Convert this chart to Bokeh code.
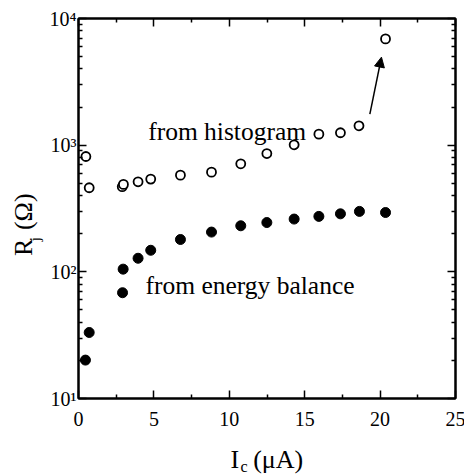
import math
from bokeh.plotting import figure
from bokeh.layouts import column, row
from bokeh.models import (LinearAxis, LogAxis, FixedTicker, Label, Arrow, NormalHead, Range1d,
                          CustomJSTickFormatter)
from bokeh.core.properties import value
from bokeh.embed import file_html
from bokeh.resources import INLINE

# ---- data ----
hist_x = [0.49, 0.71, 2.90, 2.98, 3.95, 4.79, 6.76, 8.82, 10.76, 12.49, 14.30, 15.94, 17.37, 18.60, 20.36]
hist_y = [814, 461, 470, 490, 514, 540, 580, 612, 713, 859, 1007, 1222, 1253, 1422, 6900]

energy_x = [0.46, 0.71, 2.92, 2.96, 3.95, 4.79, 6.76, 8.82, 10.76, 12.49, 14.30, 15.94, 17.37, 18.63, 20.36]
energy_y = [20.1, 33.2, 68.4, 105, 128, 148, 180, 206, 231, 245, 261, 274, 287, 300, 294]

x_ticks = [0, 5, 10, 15, 20, 25]
x_minor = [2.5, 7.5, 12.5, 17.5, 22.5]
y_ticks = [10, 100, 1000, 10000]
y_tick_labels = ["10\u00b9", "10\u00b2", "10\u00b3", "10\u2074"]

hist_label = "from histogram"
energy_label = "from energy balance"
hist_label_pos = (4.62, 1285)
energy_label_pos = (4.44, 78)
arrow_start = (19.32, 1757)
arrow_end = (20.09, 4955)

FONT = "Liberation Serif"

# ---- main plot ----
p = figure(width=418, height=440, frame_width=377, frame_height=380,
           x_range=Range1d(0, 25), y_range=Range1d(10, 10000),
           y_axis_type="log", output_backend="svg", toolbar_location=None,
           min_border_left=31, min_border_right=10, min_border_top=18, min_border_bottom=42)
p.background_fill_color = "white"
p.border_fill_color = "white"
p.outline_line_color = "black"
p.outline_line_width = 2
p.grid.visible = False

y_minor = [k * d for d in (10, 100, 1000) for k in range(2, 10)]

def style_axis(ax, labels=True):
    ax.axis_line_width = 2
    ax.axis_line_color = "black"
    ax.major_tick_in = 8
    ax.major_tick_out = 0
    ax.minor_tick_in = 4
    ax.minor_tick_out = 0
    ax.major_tick_line_width = 1.5
    ax.minor_tick_line_width = 1.5
    ax.major_tick_line_color = "black"
    ax.minor_tick_line_color = "black"
    ax.major_label_text_font = FONT
    ax.major_label_text_color = "black"
    if labels:
        ax.major_label_text_font_size = "20px"
    else:
        ax.formatter = CustomJSTickFormatter(code="return ''")
        ax.major_label_text_font_size = "1px"
        ax.major_label_standoff = 0

xa = p.xaxis[0]
xa.ticker = FixedTicker(ticks=x_ticks, minor_ticks=x_minor)
style_axis(xa)
xa.major_label_standoff = 13

ya = p.yaxis[0]
ya.ticker = FixedTicker(ticks=y_ticks, minor_ticks=y_minor)
ya.major_label_overrides = {t: s for t, s in zip(y_ticks, y_tick_labels)}
style_axis(ya)
ya.major_label_standoff = 2

top = LinearAxis(ticker=FixedTicker(ticks=x_ticks, minor_ticks=x_minor))
style_axis(top, labels=False)
p.add_layout(top, "above")
right = LogAxis(ticker=FixedTicker(ticks=y_ticks, minor_ticks=y_minor))
style_axis(right, labels=False)
p.add_layout(right, "right")

p.scatter(hist_x, hist_y, marker="circle", size=9, fill_color="white", line_color="black", line_width=1.8)
p.scatter(energy_x, energy_y, marker="circle", size=10, fill_color="black", line_color="black")

p.add_layout(Arrow(x_start=arrow_start[0], y_start=arrow_start[1], x_end=arrow_end[0], y_end=arrow_end[1],
                   line_width=1.5, line_color="black",
                   end=NormalHead(size=10, fill_color="black", line_color="black")))

for t, (tx, ty) in ((hist_label, hist_label_pos), (energy_label, energy_label_pos)):
    p.add_layout(Label(x=tx, y=ty, text=t, text_font=FONT, text_font_size="25.5px",
                       text_color="black", text_baseline="alphabetic", text_align="left"))

# ---- helper canvases for the axis titles (pixel coordinates, y upward) ----
def blank(w, h):
    f = figure(width=w, height=h, x_range=Range1d(0, w), y_range=Range1d(0, h),
               output_backend="svg", toolbar_location=None,
               x_axis_location=None, y_axis_location=None,
               min_border=0, min_border_left=0, min_border_right=0, min_border_top=0, min_border_bottom=0)
    f.outline_line_color = None
    f.background_fill_color = "white"
    f.border_fill_color = "white"
    f.grid.visible = False
    return f

left = blank(46, 440)
bottom = blank(464, 34)

def txt(fig, text, x, y, size, angle=0.0):
    fig.text(x=[x], y=[y], text=[text], angle=[angle], text_font=value(FONT), text_font_size=size,
             text_color="black", text_baseline="alphabetic", text_align="left")

# y title  R_j (Ω)
txt(left, "R", 23.2, 165, "26px", math.pi / 2)
txt(left, "j", 34.3, 182, "15px", math.pi / 2)
txt(left, "(\u03a9)", 23.2, 195, "26px", math.pi / 2)

# x title  I_c (μA)
txt(bottom, "I", 230, 15.3, "26px")
txt(bottom, "c", 240, 8.5, "16px")
txt(bottom, "(\u03bcA)", 252.7, 15.3, "26px")

layout = column(row(left, p, spacing=0), bottom, spacing=0)
open("out.html", "w").write(file_html(layout, INLINE))
